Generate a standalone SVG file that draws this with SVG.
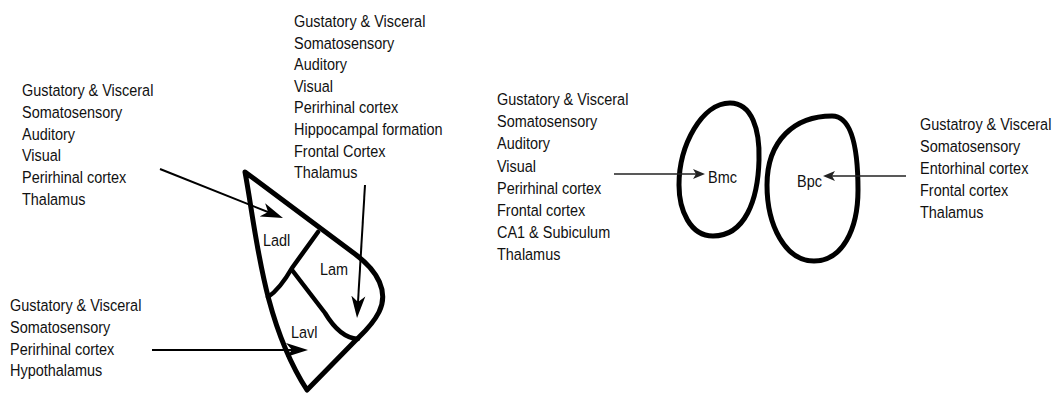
<svg xmlns="http://www.w3.org/2000/svg" width="1057" height="394" viewBox="0 0 1057 394">
<defs>
<style>
.lbl{font-family:"Liberation Sans",Arial,sans-serif;font-size:17px;fill:#111}
.shape{fill:none;stroke:#000;stroke-width:5;stroke-linejoin:round;stroke-linecap:round}
.div{fill:none;stroke:#000;stroke-width:4.5;stroke-linecap:round;stroke-linejoin:round}
.big{fill:none;stroke:#000;stroke-width:2}
.small{fill:none;stroke:#222;stroke-width:1.6}
</style>
<marker id="hb" markerUnits="userSpaceOnUse" viewBox="0 -8 22 16" markerWidth="22" markerHeight="16" refX="16" refY="0" orient="auto">
<path d="M0,-7 L22,0 L0,7 L6,0 Z" fill="#000"/>
</marker>
<marker id="hs" markerUnits="userSpaceOnUse" viewBox="0 -6 12 12" markerWidth="12" markerHeight="12" refX="8" refY="0" orient="auto">
<path d="M0,-5 L12,0 L0,5 L3,0 Z" fill="#222"/>
</marker>
</defs>
<rect width="1057" height="394" fill="#fff"/>

<g id="src-ladl">
<text class="lbl" transform="translate(22,96) scale(0.85,1)"><tspan x="0" y="0">Gustatory &amp; Visceral</tspan><tspan x="0" y="21.8">Somatosensory</tspan><tspan x="0" y="43.6">Auditory</tspan><tspan x="0" y="65.4">Visual</tspan><tspan x="0" y="87.2">Perirhinal cortex</tspan><tspan x="0" y="109">Thalamus</tspan></text>
</g>
<g id="src-lam">
<text class="lbl" transform="translate(294,27) scale(0.85,1)"><tspan x="0" y="0">Gustatory &amp; Visceral</tspan><tspan x="0" y="21.6">Somatosensory</tspan><tspan x="0" y="43.2">Auditory</tspan><tspan x="0" y="64.8">Visual</tspan><tspan x="0" y="86.4">Perirhinal cortex</tspan><tspan x="0" y="108">Hippocampal formation</tspan><tspan x="0" y="129.6">Frontal Cortex</tspan><tspan x="0" y="151.2">Thalamus</tspan></text>
</g>
<g id="src-lavl">
<text class="lbl" transform="translate(10,311) scale(0.85,1)"><tspan x="0" y="0">Gustatory &amp; Visceral</tspan><tspan x="0" y="21.8">Somatosensory</tspan><tspan x="0" y="43.6">Perirhinal cortex</tspan><tspan x="0" y="65.4">Hypothalamus</tspan></text>
</g>
<g id="src-bmc">
<text class="lbl" transform="translate(497,105) scale(0.85,1)"><tspan x="0" y="0">Gustatory &amp; Visceral</tspan><tspan x="0" y="22.2">Somatosensory</tspan><tspan x="0" y="44.4">Auditory</tspan><tspan x="0" y="66.6">Visual</tspan><tspan x="0" y="88.8">Perirhinal cortex</tspan><tspan x="0" y="111">Frontal cortex</tspan><tspan x="0" y="133.2">CA1 &amp; Subiculum</tspan><tspan x="0" y="155.4">Thalamus</tspan></text>
</g>
<g id="src-bpc">
<text class="lbl" transform="translate(920,130) scale(0.85,1)"><tspan x="0" y="0">Gustatroy &amp; Visceral</tspan><tspan x="0" y="22">Somatosensory</tspan><tspan x="0" y="44">Entorhinal cortex</tspan><tspan x="0" y="66">Frontal cortex</tspan><tspan x="0" y="88">Thalamus</tspan></text>
</g>

<g id="lateral-nucleus">
<path class="shape" d="M245,172 L355,254 C378,271 389,292 379,312 C372,326 362,334 355,341 L307,390 C262,320 256,230 245,172 Z"/>
<path class="div" d="M318,232 L292,268 Q280,289 268,297"/>
<path class="div" d="M292,270 L325,313 Q340,338 358,339"/>
<text class="lbl" transform="translate(263,246) scale(0.85,1)">Ladl</text>
<text class="lbl" transform="translate(320,275) scale(0.85,1)">Lam</text>
<text class="lbl" transform="translate(291,338) scale(0.85,1)">Lavl</text>
</g>

<g id="bmc">
<path class="shape" d="M730,103 C752,103 760,130 759,160 C758,200 745,236 713,236 C690,236 679,210 679,185 C679,145 702,103 730,103 Z"/>
<text class="lbl" transform="translate(708,183) scale(0.85,1)">Bmc</text>
</g>
<g id="bpc">
<path class="shape" d="M832,116 C852,116 858,150 858,190 C858,230 842,261 814,261 C785,261 767,225 767,185 C767,140 795,116 832,116 Z"/>
<text class="lbl" transform="translate(797,187) scale(0.85,1)">Bpc</text>
</g>

<g id="connectors">
<line class="big" x1="160" y1="169" x2="277.4" y2="215.8" marker-end="url(#hb)"/>
<line class="big" x1="365" y1="185" x2="357.4" y2="312" marker-end="url(#hb)"/>
<line class="big" x1="152" y1="350" x2="302" y2="350" marker-end="url(#hb)"/>
<line class="small" x1="614" y1="174" x2="701" y2="174" marker-end="url(#hs)"/>
<line class="small" x1="906" y1="176" x2="827" y2="176" marker-end="url(#hs)"/>
</g>
</svg>
